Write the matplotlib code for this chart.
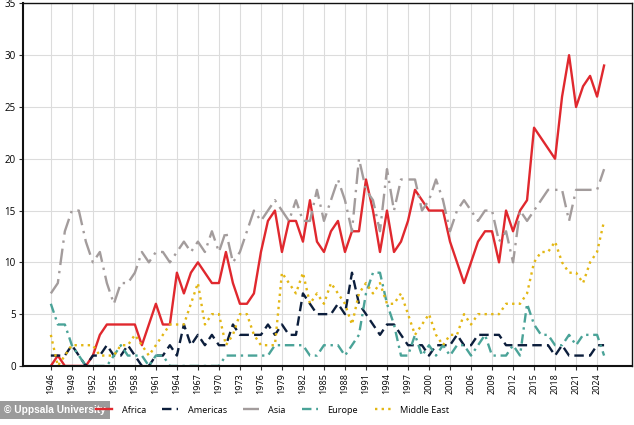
import matplotlib.pyplot as plt
from matplotlib.lines import Line2D

# number of state-based conflicts per region, 1946-2025
years = list(range(1946, 2026))

africa = [0, 1, 0, 0, 0, 0, 1, 3, 4, 4,
          4, 4, 4, 2, 4, 6, 4, 4, 9, 7,
          9, 10, 9, 8, 8, 11, 8, 6, 6, 7,
          11, 14, 15, 11, 14, 14, 12, 16, 12, 11,
          13, 14, 11, 13, 13, 18, 15, 11, 15, 11,
          12, 14, 17, 16, 15, 15, 15, 12, 10, 8,
          10, 12, 13, 13, 10, 15, 13, 15, 16, 23,
          22, 21, 20, 26, 30, 25, 27, 28, 26, 29]

americas = [1, 1, 1, 2, 1, 0, 1, 1, 2, 1,
            1, 2, 1, 0, 0, 1, 1, 2, 1, 4,
            2, 3, 2, 3, 2, 2, 4, 3, 3, 3,
            3, 4, 3, 4, 3, 3, 7, 6, 5, 5,
            5, 6, 5, 9, 6, 5, 4, 3, 4, 4,
            3, 2, 2, 2, 1, 2, 2, 2, 3, 2,
            2, 3, 3, 3, 3, 2, 2, 2, 2, 2,
            2, 2, 1, 2, 1, 1, 1, 1, 2, 2]

asia = [7, 8, 13, 15, 15, 12, 10, 11, 8, 6,
        8, 8, 9, 11, 10, 11, 11, 10, 11, 12,
        11, 12, 11, 13, 11, 13, 10, 11, 13, 15,
        14, 15, 16, 15, 14, 16, 14, 14, 17, 14,
        16, 18, 16, 13, 20, 17, 16, 13, 19, 15,
        18, 18, 18, 15, 16, 18, 16, 13, 15, 16,
        15, 14, 15, 15, 12, 13, 10, 15, 14, 15,
        16, 17, 17, 17, 14, 17, 17, 17, 17, 19]

europe = [6, 4, 4, 2, 1, 0, 0, 0, 0, 1,
          2, 1, 1, 1, 0, 1, 1, 0, 0, 0,
          0, 0, 0, 0, 0, 1, 1, 1, 1, 1,
          1, 1, 2, 2, 2, 2, 2, 1, 1, 2,
          2, 2, 1, 2, 3, 7, 9, 9, 6, 4,
          1, 1, 3, 1, 2, 1, 2, 1, 2, 2,
          1, 2, 3, 1, 1, 1, 2, 1, 6, 4,
          3, 3, 2, 2, 3, 2, 3, 3, 3, 1]

middle_east = [3, 0, 1, 2, 2, 2, 2, 1, 1, 1,
               2, 2, 3, 2, 1, 2, 3, 4, 4, 4,
               6, 8, 4, 5, 5, 2, 3, 5, 5, 3,
               2, 2, 2, 9, 8, 7, 9, 6, 7, 6,
               8, 7, 6, 4, 7, 8, 7, 8, 6, 6,
               7, 5, 3, 4, 5, 3, 2, 3, 3, 5,
               4, 5, 5, 5, 5, 6, 6, 6, 7, 10,
               11, 11, 12, 10, 9, 9, 8, 10, 11, 14]

tick_years = list(range(1946, 2025, 3))
y_ticks = [0, 5, 10, 15, 20, 25, 30, 35]

plt.rcParams['font.family'] = ['Open Sans', 'DejaVu Sans']

fig = plt.figure(figsize=(6.34, 4.25), dpi=100)
ax = fig.add_axes([0.036, 0.139, 0.961, 0.853])

series = [
    ("Africa", africa, '#e0282e', '-'),
    ("Americas", americas, '#0c1e3c', (0, (4, 2.2))),
    ("Asia", asia, '#a39c9c', (0, (7, 2.5, 1, 2.5))),
    ("Europe", europe, '#4aa398', (0, (4, 2, 1, 2))),
    ("Middle East", middle_east, '#e3b714', (0, (1, 1.8))),
]

handles = []
for name, vals, col, ls in series:
    ax.plot(years, vals, color=col, linestyle=ls, linewidth=1.7, label=name)
    handles.append(Line2D([], [], color=col, linestyle=ls, linewidth=1.7))

ax.set_xlim(1942, 2029)
ax.set_ylim(0, 35)
ax.set_xticks(tick_years)
ax.set_xticklabels([str(y) for y in tick_years], rotation=90, fontsize=6.5)
ax.set_yticks(y_ticks)
ax.set_yticklabels([str(v) for v in y_ticks], fontsize=7)
ax.tick_params(axis='both', length=3, width=0.8, color='#333333', pad=2)
ax.grid(True, color='#dcdcdc', linewidth=0.8)
ax.set_axisbelow(True)
for s in ax.spines.values():
    s.set_color('#111111')
    s.set_linewidth(1.0)
ax.spines['left'].set_linewidth(1.5)
ax.spines['bottom'].set_linewidth(1.5)

fig.legend(handles, [s[0] for s in series], loc='center', ncol=5,
           bbox_to_anchor=(0.43, 0.035), frameon=False, fontsize=6.6,
           handlelength=1.75, handletextpad=1.0, columnspacing=1.8)

fig.text(0.006, 0.035, "\u00a9 Uppsala University", fontsize=7.3, color='white',
         fontweight='bold', family='Liberation Sans', va='center',
         bbox=dict(facecolor='#8a8a8a', edgecolor='none', alpha=0.85, pad=3))

fig.savefig("out.png", dpi=100)
